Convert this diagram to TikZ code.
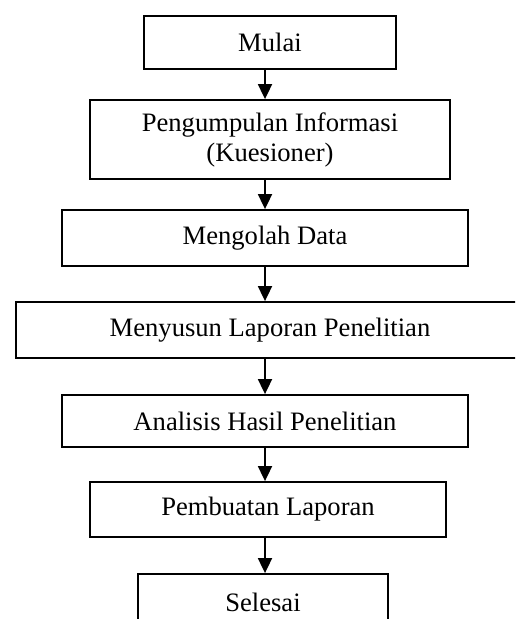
\documentclass[tikz,border=0pt]{standalone}
\usepackage{fontspec}
\setmainfont{Liberation Serif}
\usetikzlibrary{arrows.meta}
\begin{document}
\begin{tikzpicture}[x=0.5pt,y=-0.5pt,
  box/.style={draw=black,line width=0.9pt,rectangle,inner sep=0pt,align=center,
    font=\fontsize{13.3}{15}\selectfont},
  arr/.style={line width=0.9pt,-{Triangle[length=7.5pt,width=7pt]}}]
\useasboundingbox (0,0) rectangle (515,619);
\clip (0,0) rectangle (515,619);
\node[box,minimum width=126pt,minimum height=26.5pt] (mulai) at (270,42.5) {Mulai};
\node[box,minimum width=180pt,minimum height=39.5pt] (info) at (270,139.5) {Pengumpulan Informasi\\(Kuesioner)};
\node[box,minimum width=203pt,minimum height=28pt] (olah) at (265,238) {Mengolah Data};
\node[box,minimum width=254pt,minimum height=28pt] (susun) at (270,330) {Menyusun Laporan Penelitian};
\node[box,minimum width=203pt,minimum height=26pt] (anal) at (265,421) {Analisis Hasil Penelitian};
\node[box,minimum width=178pt,minimum height=27.5pt] (buat) at (268,509.5) {Pembuatan Laporan};
\node[box,minimum width=125pt,minimum height=28pt] (selesai) at (263,602) {Selesai};
\coordinate (ax) at (265,0);
\draw[arr] (mulai.south -| ax) -- (info.north -| ax);
\draw[arr] (info.south -| ax) -- (olah.north -| ax);
\draw[arr] (olah.south -| ax) -- (susun.north -| ax);
\draw[arr] (susun.south -| ax) -- (anal.north -| ax);
\draw[arr] (anal.south -| ax) -- (buat.north -| ax);
\draw[arr] (buat.south -| ax) -- (selesai.north -| ax);
\end{tikzpicture}
\end{document}
